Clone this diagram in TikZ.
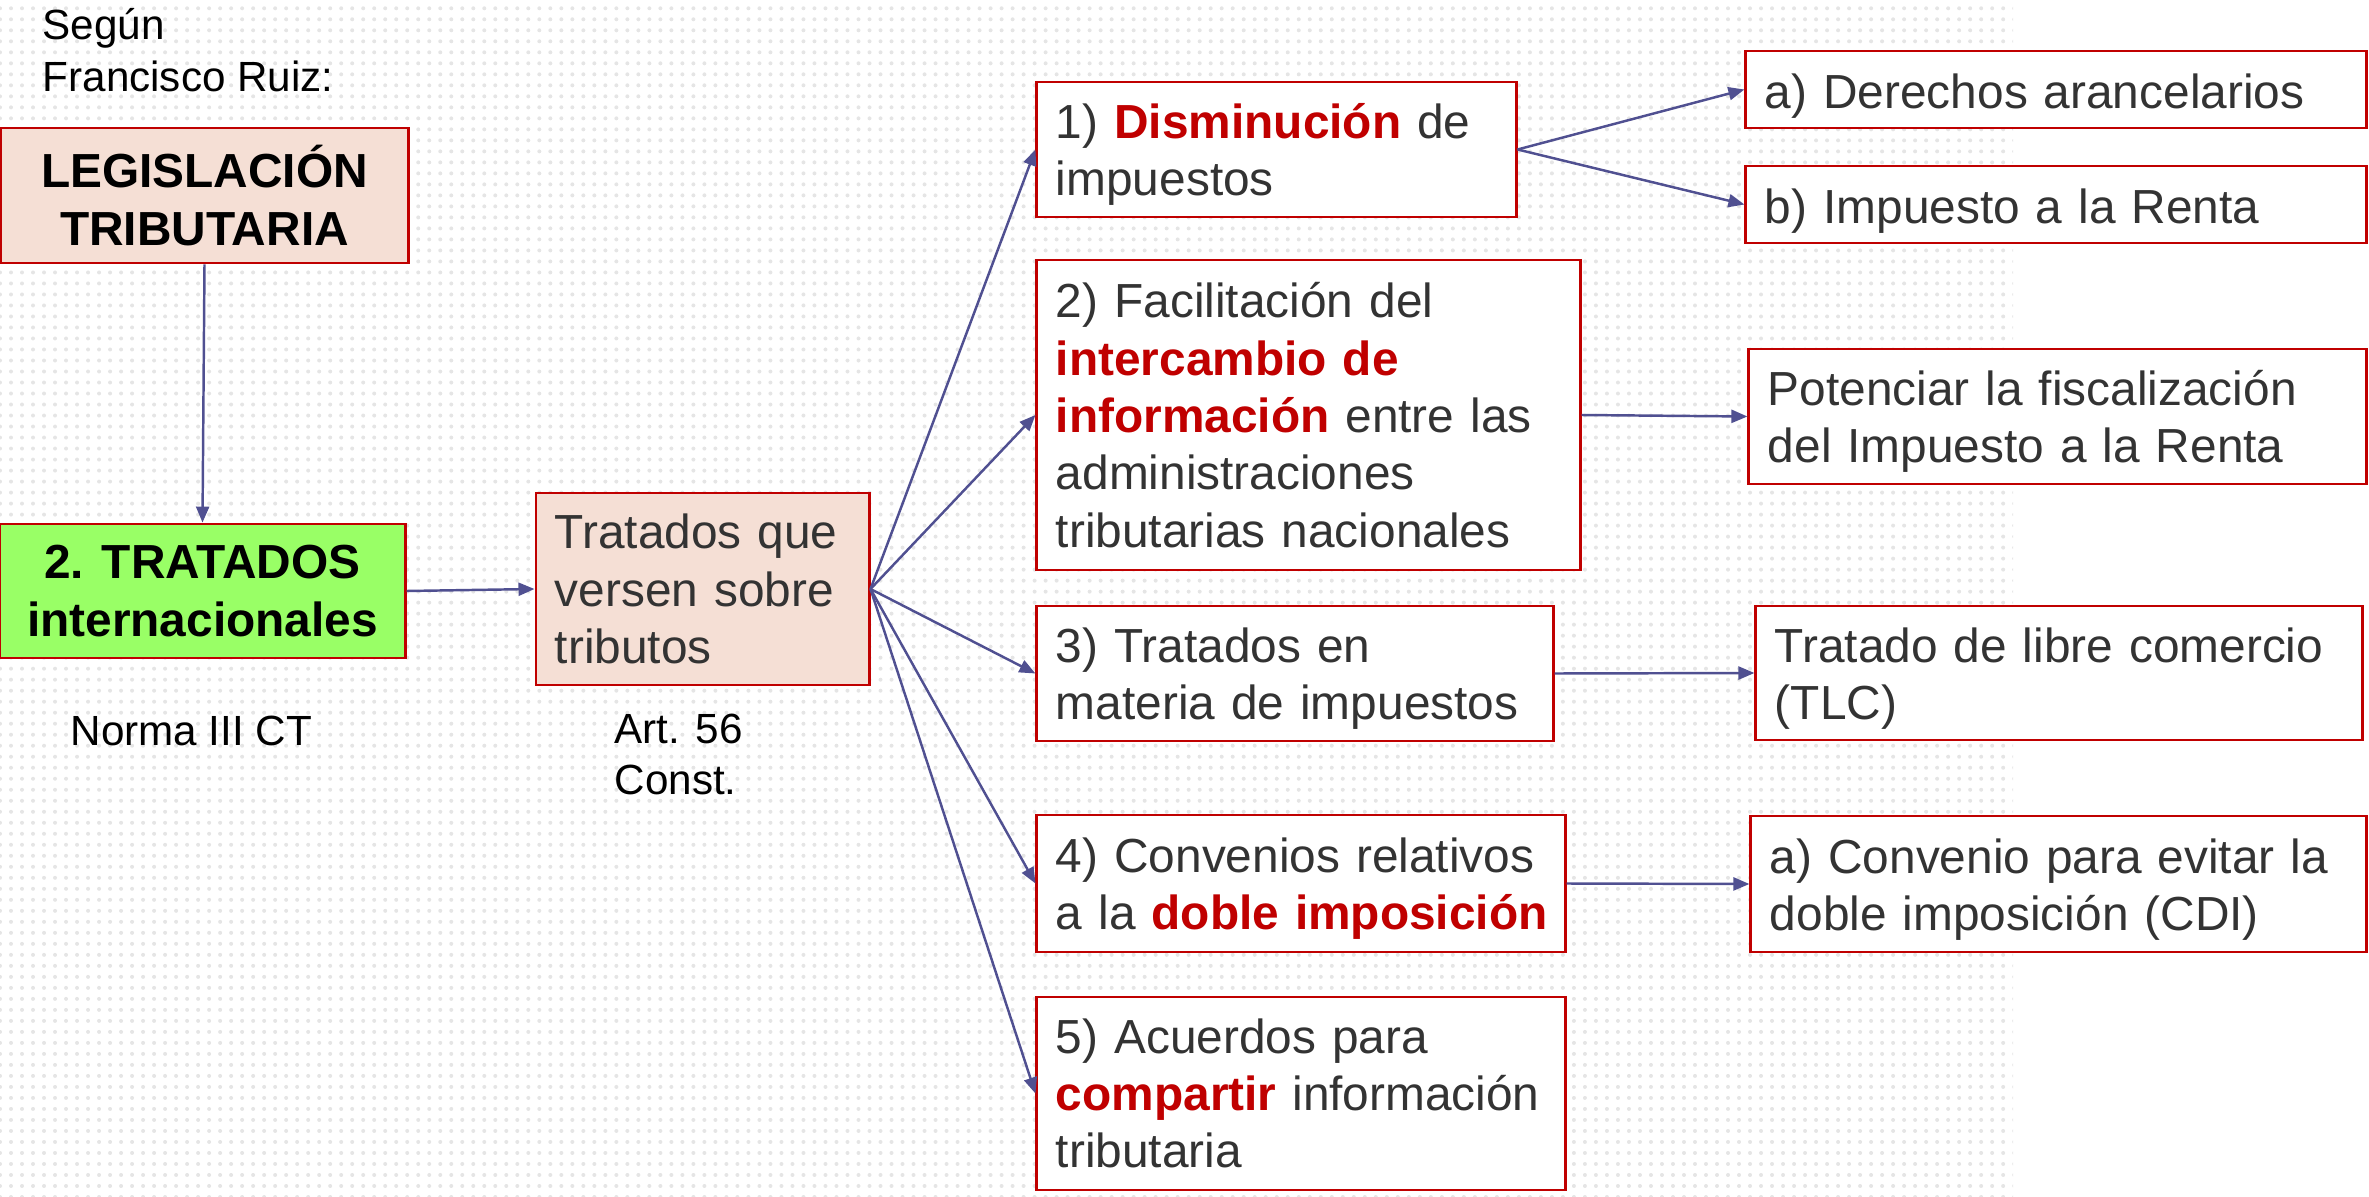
\documentclass[tikz,border=0pt]{standalone}
\usepackage{fontspec}
\setmainfont{Liberation Sans}
\usetikzlibrary{arrows.meta,patterns.meta}

\definecolor{tred}{RGB}{192,0,0}
\definecolor{tgray}{RGB}{51,51,51}
\definecolor{tpink}{RGB}{245,223,213}
\definecolor{tgreen}{RGB}{153,255,102}
\definecolor{tblue}{RGB}{80,80,145}
\definecolor{tdots}{RGB}{229,229,229}

\newcommand{\redbf}[1]{\textbf{\color{tred}#1}}

\begin{document}
\begin{tikzpicture}[x=0.01cm, y=-0.01cm,
    box/.style={draw=tred, line width=0.8pt, fill=white, text=tgray, align=left,
        inner xsep=0.19cm, inner ysep=0pt, font=\fontsize{13.6}{16.3}\selectfont},
    oneline/.style={text height=12.3pt, text depth=1.3pt},
    twoline/.style={text height=12.3pt, text depth=18.5pt},
    titlebox/.style={draw=tred, line width=0.8pt, align=center, inner sep=0pt,
        font=\fontsize{13.6}{16.3}\selectfont\bfseries},
    note/.style={align=left, inner sep=0pt, font=\fontsize{12}{14.6}\selectfont},
    link/.style={-{Triangle[length=0.16cm,width=0.13cm]}, draw=tblue, line width=0.7pt}]
    % ==========================================
    % Background: dotted band on the left
    % ==========================================
    \useasboundingbox (0,0) rectangle (2369,1197);
    \fill[pattern={Dots[distance=0.11cm,radius=0.02cm]}, pattern color=tdots] (0,0) rectangle (2013,1197);

    % ==========================================
    % Left column
    % ==========================================
    \node[note, anchor=north west] (segun) at (42,8) {Según\\Francisco Ruiz:};
    \node[titlebox, fill=tpink, minimum width=4.07cm, minimum height=1.35cm] (legis) at (204.5,195.5) {LEGISLACIÓN\\TRIBUTARIA};
    \node[titlebox, fill=tgreen, minimum width=4.05cm, minimum height=1.34cm] (tratint) at (202.5,591) {2. TRATADOS\\internacionales};
    \node[note, anchor=base west] (norma) at (70,745) {Norma III CT};

    % Hub box
    \node[box, fill=tpink, text width=2.95cm, minimum height=1.92cm] (tratados) at (702.5,589) {Tratados que\\versen sobre\\tributos};
    \node[note, anchor=north west] (art) at (614,713) {Art. 56\\Const.};

    % ==========================================
    % Middle column: the five kinds of treaties
    % ==========================================
    \node[box, twoline, text width=4.41cm, minimum height=1.35cm] (t1) at (1276.5,149.5) {1) \redbf{Disminución} de\\impuestos};
    \node[box, text width=5.05cm, minimum height=3.10cm] (t2) at (1308.5,415) {2) Facilitación del\\\redbf{intercambio de}\\\redbf{información} entre las\\administraciones\\tributarias nacionales};
    \node[box, twoline, text width=4.78cm, minimum height=1.35cm] (t3) at (1295,673.5) {3) Tratados en\\materia de impuestos};
    \node[box, twoline, text width=4.90cm, minimum height=1.37cm] (t4) at (1301,883.5) {4) Convenios relativos\\\mbox{a la \redbf{doble imposición}}};
    \node[box, text width=4.90cm, minimum height=1.93cm] (t5) at (1301,1093.5) {5) Acuerdos para\\\redbf{compartir} información\\tributaria};

    % ==========================================
    % Right column: examples
    % ==========================================
    \node[box, oneline, text width=5.82cm, minimum height=0.77cm] (t1a) at (2056,89.5) {a) Derechos arancelarios};
    \node[box, oneline, text width=5.82cm, minimum height=0.77cm] (t1b) at (2056,204.5) {b) Impuesto a la Renta};
    \node[box, twoline, text width=5.79cm, minimum height=1.35cm] (t2a) at (2057.5,416.5) {Potenciar la fiscalización\\del Impuesto a la Renta};
    \node[box, twoline, text width=5.68cm, minimum height=1.34cm] (t3a) at (2059,673) {Tratado de libre comercio\\(TLC)};
    \node[box, twoline, text width=5.77cm, minimum height=1.36cm] (t4a) at (2058.5,884) {a) Convenio para evitar la\\doble imposición (CDI)};

    % ==========================================
    % Connectors
    % ==========================================
    \draw[link] (legis.south) -- (tratint.north);
    \draw[link] (tratint.east) -- (tratados.west);
    \foreach \k in {1,...,5}
        \draw[link] (tratados.east) -- (t\k.west);
    \draw[link] (t1.east) -- (t1a.west);
    \draw[link] (t1.east) -- (t1b.west);
    \draw[link] (t2.east) -- (t2a.west);
    \draw[link] (t3.east) -- (t3a.west);
    \draw[link] (t4.east) -- (t4a.west);
\end{tikzpicture}
\end{document}
